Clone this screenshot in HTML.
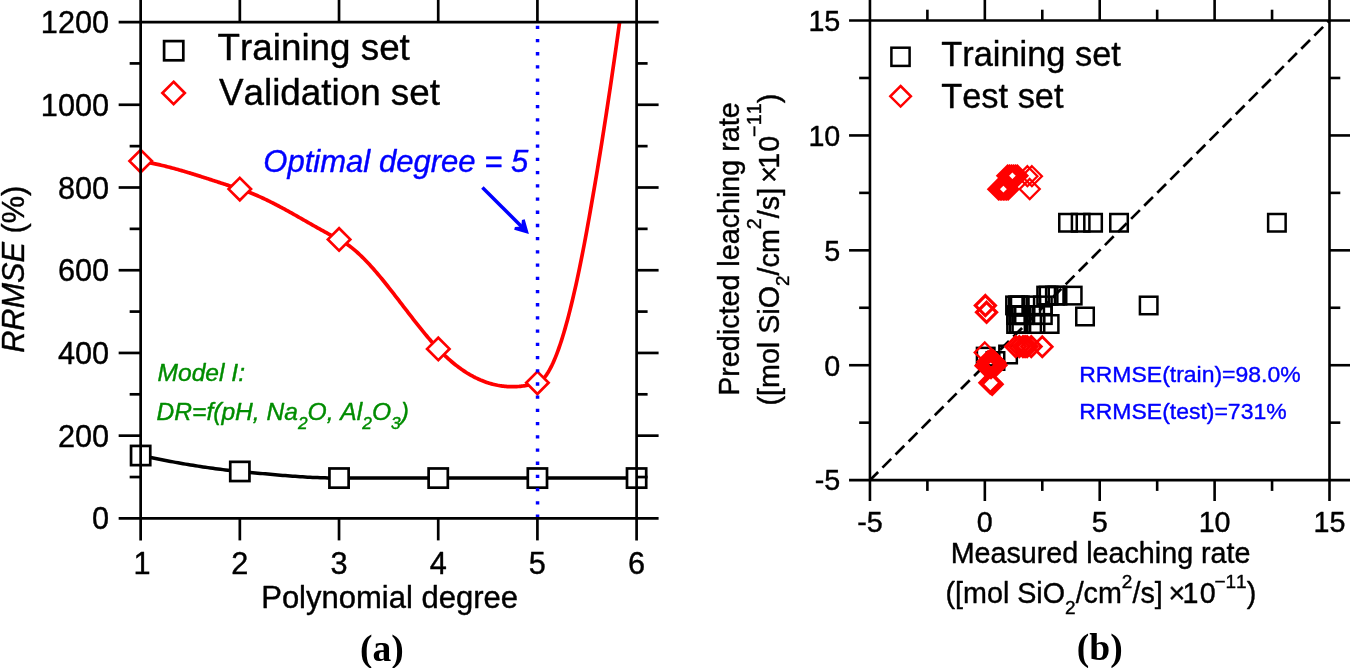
<!DOCTYPE html>
<html lang="en"><head><meta charset="utf-8"><title>RRMSE vs polynomial degree</title>
<style>
html,body{margin:0;padding:0;background:#fff;}
body{width:1350px;height:668px;overflow:hidden;}
svg{display:block;font-family:"Liberation Sans", Arial, Helvetica, sans-serif;font-kerning:none;}
text{stroke-width:0.4px;stroke-linejoin:round;}
.t text,text.t{stroke:#000;}
.ax{stroke:#000;fill:none;stroke-linecap:butt;}
.t{fill:#000;}
.serif{font-family:"Liberation Serif", "Times New Roman", serif;font-weight:bold;}
</style></head><body>
<svg width="1350" height="668" viewBox="0 0 1350 668">
<rect width="1350" height="668" fill="#fff"/>
<defs><clipPath id="clipA"><rect x="140.65" y="22.05" width="495.95" height="496.35"/></clipPath></defs>
<path clip-path="url(#clipA)" d="M140.65 161.10 L141.86 161.30 L143.06 161.50 L144.27 161.71 L145.47 161.92 L146.68 162.14 L147.88 162.37 L149.09 162.60 L150.30 162.83 L151.50 163.08 L152.71 163.32 L153.91 163.58 L155.12 163.83 L156.32 164.10 L157.53 164.37 L158.74 164.64 L159.94 164.92 L161.15 165.20 L162.35 165.48 L163.56 165.78 L164.76 166.07 L165.97 166.37 L167.18 166.68 L168.38 166.98 L169.59 167.30 L170.79 167.61 L172.00 167.93 L173.20 168.26 L174.41 168.58 L175.62 168.92 L176.82 169.25 L178.03 169.59 L179.23 169.93 L180.44 170.27 L181.64 170.62 L182.85 170.97 L184.05 171.32 L185.26 171.68 L186.47 172.04 L187.67 172.40 L188.88 172.76 L190.08 173.13 L191.29 173.49 L192.49 173.87 L193.70 174.24 L194.91 174.61 L196.11 174.99 L197.32 175.37 L198.52 175.75 L199.73 176.13 L200.93 176.51 L202.14 176.90 L203.35 177.28 L204.55 177.67 L205.76 178.06 L206.96 178.44 L208.17 178.84 L209.37 179.23 L210.58 179.62 L211.79 180.01 L212.99 180.40 L214.20 180.80 L215.40 181.19 L216.61 181.58 L217.81 181.98 L219.02 182.37 L220.23 182.77 L221.43 183.16 L222.64 183.56 L223.84 183.95 L225.05 184.34 L226.25 184.74 L227.46 185.13 L228.67 185.52 L229.87 185.91 L231.08 186.30 L232.28 186.69 L233.49 187.08 L234.69 187.46 L235.90 187.85 L237.11 188.23 L238.31 188.62 L239.52 189.00 L240.72 189.38 L241.93 189.77 L243.13 190.18 L244.34 190.60 L245.55 191.02 L246.75 191.46 L247.96 191.90 L249.16 192.36 L250.37 192.83 L251.57 193.30 L252.78 193.79 L253.99 194.28 L255.19 194.78 L256.40 195.30 L257.60 195.82 L258.81 196.35 L260.01 196.88 L261.22 197.43 L262.42 197.98 L263.63 198.54 L264.84 199.10 L266.04 199.68 L267.25 200.26 L268.45 200.84 L269.66 201.44 L270.86 202.04 L272.07 202.64 L273.28 203.25 L274.48 203.87 L275.69 204.49 L276.89 205.12 L278.10 205.75 L279.30 206.39 L280.51 207.03 L281.72 207.68 L282.92 208.33 L284.13 208.98 L285.33 209.64 L286.54 210.30 L287.74 210.97 L288.95 211.63 L290.16 212.30 L291.36 212.98 L292.57 213.65 L293.77 214.33 L294.98 215.01 L296.18 215.69 L297.39 216.37 L298.60 217.06 L299.80 217.74 L301.01 218.43 L302.21 219.12 L303.42 219.81 L304.62 220.49 L305.83 221.18 L307.04 221.87 L308.24 222.56 L309.45 223.25 L310.65 223.93 L311.86 224.62 L313.06 225.31 L314.27 225.99 L315.48 226.67 L316.68 227.35 L317.89 228.03 L319.09 228.71 L320.30 229.38 L321.50 230.05 L322.71 230.72 L323.92 231.39 L325.12 232.05 L326.33 232.71 L327.53 233.37 L328.74 234.02 L329.94 234.67 L331.15 235.31 L332.36 235.95 L333.56 236.58 L334.77 237.21 L335.97 237.84 L337.18 238.46 L338.38 239.07 L339.59 239.69 L340.80 240.33 L342.00 241.01 L343.21 241.72 L344.41 242.47 L345.62 243.25 L346.82 244.06 L348.03 244.91 L349.23 245.79 L350.44 246.70 L351.65 247.63 L352.85 248.60 L354.06 249.60 L355.26 250.62 L356.47 251.67 L357.67 252.75 L358.88 253.85 L360.09 254.98 L361.29 256.13 L362.50 257.31 L363.70 258.51 L364.91 259.73 L366.11 260.98 L367.32 262.24 L368.53 263.53 L369.73 264.83 L370.94 266.15 L372.14 267.50 L373.35 268.85 L374.55 270.23 L375.76 271.62 L376.97 273.03 L378.17 274.45 L379.38 275.89 L380.58 277.34 L381.79 278.80 L382.99 280.28 L384.20 281.76 L385.41 283.26 L386.61 284.77 L387.82 286.28 L389.02 287.81 L390.23 289.34 L391.43 290.88 L392.64 292.43 L393.85 293.98 L395.05 295.54 L396.26 297.10 L397.46 298.66 L398.67 300.23 L399.87 301.80 L401.08 303.37 L402.29 304.95 L403.49 306.52 L404.70 308.09 L405.90 309.66 L407.11 311.23 L408.31 312.80 L409.52 314.36 L410.73 315.92 L411.93 317.48 L413.14 319.03 L414.34 320.58 L415.55 322.11 L416.75 323.64 L417.96 325.17 L419.17 326.68 L420.37 328.18 L421.58 329.68 L422.78 331.16 L423.99 332.63 L425.19 334.09 L426.40 335.54 L427.60 336.97 L428.81 338.39 L430.02 339.80 L431.22 341.19 L432.43 342.56 L433.63 343.91 L434.84 345.25 L436.04 346.57 L437.25 347.87 L438.46 349.15 L439.66 350.41 L440.87 351.64 L442.07 352.86 L443.28 354.05 L444.48 355.21 L445.69 356.36 L446.90 357.48 L448.10 358.58 L449.31 359.66 L450.51 360.71 L451.72 361.75 L452.92 362.76 L454.13 363.75 L455.34 364.71 L456.54 365.66 L457.75 366.58 L458.95 367.49 L460.16 368.37 L461.36 369.22 L462.57 370.06 L463.78 370.88 L464.98 371.67 L466.19 372.44 L467.39 373.20 L468.60 373.93 L469.80 374.64 L471.01 375.32 L472.22 375.99 L473.42 376.64 L474.63 377.26 L475.83 377.87 L477.04 378.45 L478.24 379.02 L479.45 379.56 L480.66 380.08 L481.86 380.58 L483.07 381.07 L484.27 381.53 L485.48 381.97 L486.68 382.39 L487.89 382.79 L489.10 383.17 L490.30 383.53 L491.51 383.88 L492.71 384.20 L493.92 384.50 L495.12 384.78 L496.33 385.04 L497.54 385.29 L498.74 385.51 L499.95 385.72 L501.15 385.90 L502.36 386.07 L503.56 386.21 L504.77 386.34 L505.97 386.45 L507.18 386.54 L508.39 386.61 L509.59 386.66 L510.80 386.69 L512.00 386.71 L513.21 386.71 L514.41 386.68 L515.62 386.64 L516.83 386.58 L518.03 386.50 L519.24 386.41 L520.44 386.29 L521.65 386.16 L522.85 386.01 L524.06 385.84 L525.27 385.66 L526.47 385.45 L527.68 385.23 L528.88 384.99 L530.09 384.74 L531.29 384.46 L532.50 384.17 L533.71 383.86 L534.91 383.53 L536.12 383.19 L537.32 382.83 L538.53 382.38 L539.73 381.74 L540.94 380.92 L542.15 379.92 L543.35 378.73 L544.56 377.37 L545.76 375.84 L546.97 374.12 L548.17 372.24 L549.38 370.18 L550.59 367.95 L551.79 365.56 L553.00 362.99 L554.20 360.27 L555.41 357.38 L556.61 354.33 L557.82 351.12 L559.03 347.75 L560.23 344.23 L561.44 340.55 L562.64 336.72 L563.85 332.74 L565.05 328.61 L566.26 324.34 L567.47 319.91 L568.67 315.35 L569.88 310.64 L571.08 305.80 L572.29 300.81 L573.49 295.69 L574.70 290.43 L575.91 285.04 L577.11 279.52 L578.32 273.87 L579.52 268.09 L580.73 262.18 L581.93 256.15 L583.14 250.00 L584.35 243.73 L585.55 237.34 L586.76 230.83 L587.96 224.20 L589.17 217.46 L590.37 210.61 L591.58 203.65 L592.80 196.58 L594.05 189.40 L595.30 182.11 L596.54 174.73 L597.79 167.24 L599.03 159.65 L600.29 151.97 L601.53 144.18 L602.78 136.30 L604.04 128.33 L605.28 120.27 L606.54 112.12 L607.78 103.88 L609.04 95.56 L610.29 87.15 L611.54 78.65 L612.80 70.08 L614.05 61.43 L615.31 52.70 L616.56 43.89 L617.82 35.02 L619.07 26.07 L620.33 17.04" fill="none" stroke="#ff0000" stroke-width="3.7" stroke-linejoin="round"/>
<path d="M140.65 455.53 L143.14 456.04 L145.63 456.56 L148.13 457.06 L150.62 457.57 L153.11 458.07 L155.60 458.56 L158.10 459.05 L160.59 459.54 L163.08 460.02 L165.57 460.50 L168.06 460.97 L170.56 461.43 L173.05 461.89 L175.54 462.35 L178.03 462.79 L180.53 463.24 L183.02 463.67 L185.51 464.10 L188.00 464.52 L190.49 464.94 L192.99 465.34 L195.48 465.74 L197.97 466.14 L200.46 466.52 L202.96 466.90 L205.45 467.27 L207.94 467.63 L210.43 467.98 L212.92 468.33 L215.42 468.66 L217.91 468.99 L220.40 469.31 L222.89 469.62 L225.39 469.92 L227.88 470.21 L230.37 470.49 L232.86 470.75 L235.35 471.01 L237.85 471.26 L240.34 471.50 L242.83 471.74 L245.32 471.97 L247.82 472.21 L250.31 472.45 L252.80 472.69 L255.29 472.92 L257.78 473.16 L260.28 473.39 L262.77 473.63 L265.26 473.86 L267.75 474.09 L270.24 474.32 L272.74 474.54 L275.23 474.76 L277.72 474.98 L280.21 475.19 L282.71 475.40 L285.20 475.60 L287.69 475.80 L290.18 475.99 L292.67 476.17 L295.17 476.35 L297.66 476.53 L300.15 476.69 L302.64 476.85 L305.14 477.00 L307.63 477.14 L310.12 477.28 L312.61 477.40 L315.10 477.51 L317.60 477.62 L320.09 477.72 L322.58 477.80 L325.07 477.87 L327.57 477.94 L330.06 477.99 L332.55 478.03 L335.04 478.05 L337.53 478.07 L340.03 478.07 L342.52 478.07 L345.01 478.07 L347.50 478.07 L350.00 478.07 L352.49 478.07 L354.98 478.07 L357.47 478.07 L359.96 478.07 L362.46 478.07 L364.95 478.07 L367.44 478.07 L369.93 478.07 L372.43 478.07 L374.92 478.07 L377.41 478.07 L379.90 478.07 L382.39 478.07 L384.89 478.07 L387.38 478.07 L389.87 478.07 L392.36 478.07 L394.86 478.07 L397.35 478.07 L399.84 478.07 L402.33 478.07 L404.82 478.07 L407.32 478.07 L409.81 478.07 L412.30 478.07 L414.79 478.07 L417.29 478.07 L419.78 478.07 L422.27 478.07 L424.76 478.07 L427.25 478.07 L429.75 478.07 L432.24 478.07 L434.73 478.07 L437.22 478.07 L439.72 478.07 L442.21 478.07 L444.70 478.07 L447.19 478.07 L449.68 478.07 L452.18 478.07 L454.67 478.07 L457.16 478.07 L459.65 478.07 L462.15 478.07 L464.64 478.07 L467.13 478.07 L469.62 478.07 L472.11 478.07 L474.61 478.07 L477.10 478.07 L479.59 478.07 L482.08 478.07 L484.58 478.07 L487.07 478.07 L489.56 478.07 L492.05 478.07 L494.54 478.07 L497.04 478.07 L499.53 478.07 L502.02 478.07 L504.51 478.07 L507.01 478.07 L509.50 478.07 L511.99 478.07 L514.48 478.07 L516.97 478.07 L519.47 478.07 L521.96 478.07 L524.45 478.07 L526.94 478.07 L529.43 478.07 L531.93 478.07 L534.42 478.07 L536.91 478.07 L539.40 478.07 L541.90 478.07 L544.39 478.07 L546.88 478.07 L549.37 478.07 L551.86 478.07 L554.36 478.07 L556.85 478.07 L559.34 478.07 L561.83 478.07 L564.33 478.07 L566.82 478.07 L569.31 478.07 L571.80 478.07 L574.29 478.07 L576.79 478.07 L579.28 478.07 L581.77 478.07 L584.26 478.07 L586.76 478.07 L589.25 478.07 L591.74 478.07 L594.23 478.07 L596.72 478.07 L599.22 478.07 L601.71 478.07 L604.20 478.07 L606.69 478.07 L609.19 478.07 L611.68 478.07 L614.17 478.07 L616.66 478.07 L619.15 478.07 L621.65 478.07 L624.14 478.07 L626.63 478.07 L629.12 478.07 L631.62 478.07 L634.11 478.07 L636.60 478.07" fill="none" stroke="#000" stroke-width="3.5" stroke-linejoin="round"/>
<rect x="131.05" y="445.93" width="19.20" height="19.20" fill="#fff" stroke="#000" stroke-width="2.70"/>
<rect x="230.24" y="461.85" width="19.20" height="19.20" fill="#fff" stroke="#000" stroke-width="2.70"/>
<rect x="329.43" y="468.47" width="19.20" height="19.20" fill="#fff" stroke="#000" stroke-width="2.70"/>
<rect x="428.62" y="468.47" width="19.20" height="19.20" fill="#fff" stroke="#000" stroke-width="2.70"/>
<rect x="527.81" y="468.47" width="19.20" height="19.20" fill="#fff" stroke="#000" stroke-width="2.70"/>
<rect x="627.00" y="468.47" width="19.20" height="19.20" fill="#fff" stroke="#000" stroke-width="2.70"/>
<path d="M140.70 149.90 L151.90 161.10 L140.70 172.30 L129.50 161.10Z" fill="#fff" stroke="#ff0000" stroke-width="2.70" stroke-linejoin="miter"/>
<path d="M239.80 177.90 L251.00 189.10 L239.80 200.30 L228.60 189.10Z" fill="#fff" stroke="#ff0000" stroke-width="2.70" stroke-linejoin="miter"/>
<path d="M339.10 228.20 L350.30 239.40 L339.10 250.60 L327.90 239.40Z" fill="#fff" stroke="#ff0000" stroke-width="2.70" stroke-linejoin="miter"/>
<path d="M438.30 337.70 L449.50 348.90 L438.30 360.10 L427.10 348.90Z" fill="#fff" stroke="#ff0000" stroke-width="2.70" stroke-linejoin="miter"/>
<path d="M537.40 371.60 L548.60 382.80 L537.40 394.00 L526.20 382.80Z" fill="#fff" stroke="#ff0000" stroke-width="2.70" stroke-linejoin="miter"/>
<line x1="537.55" y1="517.75" x2="537.55" y2="22" stroke="#0000ff" stroke-width="3.5" stroke-dasharray="3.3 9.91"/>
<g class="ax" stroke-width="2.70">
<line x1="140.65" y1="0" x2="140.65" y2="540.40"/>
<line x1="636.60" y1="0" x2="636.60" y2="540.40"/>
<line x1="118.65" y1="22.05" x2="658.60" y2="22.05"/>
<line x1="118.65" y1="518.40" x2="658.60" y2="518.40"/>
<line x1="239.84" y1="0" x2="239.84" y2="22.05"/>
<line x1="239.84" y1="518.40" x2="239.84" y2="540.40"/>
<line x1="339.03" y1="0" x2="339.03" y2="22.05"/>
<line x1="339.03" y1="518.40" x2="339.03" y2="540.40"/>
<line x1="438.22" y1="0" x2="438.22" y2="22.05"/>
<line x1="438.22" y1="518.40" x2="438.22" y2="540.40"/>
<line x1="537.41" y1="0" x2="537.41" y2="22.05"/>
<line x1="537.41" y1="518.40" x2="537.41" y2="540.40"/>
<line x1="129.65" y1="477.04" x2="140.65" y2="477.04"/>
<line x1="636.60" y1="477.04" x2="647.60" y2="477.04"/>
<line x1="118.65" y1="435.67" x2="140.65" y2="435.67"/>
<line x1="636.60" y1="435.67" x2="658.60" y2="435.67"/>
<line x1="129.65" y1="394.31" x2="140.65" y2="394.31"/>
<line x1="636.60" y1="394.31" x2="647.60" y2="394.31"/>
<line x1="118.65" y1="352.95" x2="140.65" y2="352.95"/>
<line x1="636.60" y1="352.95" x2="658.60" y2="352.95"/>
<line x1="129.65" y1="311.59" x2="140.65" y2="311.59"/>
<line x1="636.60" y1="311.59" x2="647.60" y2="311.59"/>
<line x1="118.65" y1="270.23" x2="140.65" y2="270.23"/>
<line x1="636.60" y1="270.23" x2="658.60" y2="270.23"/>
<line x1="129.65" y1="228.86" x2="140.65" y2="228.86"/>
<line x1="636.60" y1="228.86" x2="647.60" y2="228.86"/>
<line x1="118.65" y1="187.50" x2="140.65" y2="187.50"/>
<line x1="636.60" y1="187.50" x2="658.60" y2="187.50"/>
<line x1="129.65" y1="146.14" x2="140.65" y2="146.14"/>
<line x1="636.60" y1="146.14" x2="647.60" y2="146.14"/>
<line x1="118.65" y1="104.77" x2="140.65" y2="104.77"/>
<line x1="636.60" y1="104.77" x2="658.60" y2="104.77"/>
<line x1="129.65" y1="63.41" x2="140.65" y2="63.41"/>
<line x1="636.60" y1="63.41" x2="647.60" y2="63.41"/>
</g>
<g class="t" font-size="30.70">
<text x="109.1" y="529.40" text-anchor="end">0</text>
<text x="109.1" y="446.67" text-anchor="end">200</text>
<text x="109.1" y="363.95" text-anchor="end">400</text>
<text x="109.1" y="281.23" text-anchor="end">600</text>
<text x="109.1" y="198.50" text-anchor="end">800</text>
<text x="109.1" y="115.77" text-anchor="end">1000</text>
<text x="109.1" y="33.05" text-anchor="end">1200</text>
<text x="141.95" y="573.8" text-anchor="middle">1</text>
<text x="239.84" y="573.8" text-anchor="middle">2</text>
<text x="339.03" y="573.8" text-anchor="middle">3</text>
<text x="438.22" y="573.8" text-anchor="middle">4</text>
<text x="537.41" y="573.8" text-anchor="middle">5</text>
<text x="636.60" y="573.8" text-anchor="middle">6</text>
<text x="389.6" y="607.8" text-anchor="middle" font-size="31">Polynomial degree</text>
<text transform="translate(24.3 269.3) rotate(-90)" text-anchor="middle"><tspan font-style="italic">RRMSE</tspan> (%)</text>
</g>
<rect x="164.10" y="41.10" width="19.20" height="19.20" fill="none" stroke="#000" stroke-width="2.70"/>
<path d="M173.60 81.80 L184.80 93.00 L173.60 104.20 L162.40 93.00Z" fill="none" stroke="#ff0000" stroke-width="2.70" stroke-linejoin="miter"/>
<g class="t" font-size="36.8"><text x="217.6" y="60.1">Training set</text><text x="219.0" y="105.4">Validation set</text></g>
<text x="263.3" y="172.1" font-size="31.05" font-style="italic" fill="#0000ff" stroke="#0000ff">Optimal degree = 5</text>
<line x1="482.4" y1="187.6" x2="522.5" y2="227.5" stroke="#0000ff" stroke-width="3.5"/>
<path d="M528.9 233.9 L524.7 219.2 L521.9 219.9 L521.3 226.5 L514.9 226.9 L514.2 229.7Z" fill="#0000ff"/>
<g fill="#008c00" stroke="#008c00" font-style="italic" font-size="24.6"><text x="157.5" y="380.5">Model I:</text><text x="156.5" y="419.9">DR=f(pH, Na<tspan font-size="17.3" dy="9.3">2</tspan><tspan dy="-9.3">O, Al</tspan><tspan font-size="17.3" dy="9.3">2</tspan><tspan dy="-9.3">O</tspan><tspan font-size="17.3" dy="9.3">3</tspan><tspan dy="-9.3">)</tspan></text></g>
<text class="serif" x="381.8" stroke="none" y="660.6" font-size="37.6" text-anchor="middle">(a)</text>
<line x1="869.35" y1="480.70" x2="1329.50" y2="20.50" stroke="#000" stroke-width="2.7" stroke-dasharray="12.4 6.11"/>
<rect x="1059.27" y="214.00" width="17.50" height="17.50" fill="none" stroke="#000" stroke-width="2.50"/>
<rect x="1071.90" y="214.00" width="17.50" height="17.50" fill="none" stroke="#000" stroke-width="2.50"/>
<rect x="1084.31" y="214.00" width="17.50" height="17.50" fill="none" stroke="#000" stroke-width="2.50"/>
<rect x="1110.28" y="214.00" width="17.50" height="17.50" fill="none" stroke="#000" stroke-width="2.50"/>
<rect x="1268.13" y="214.00" width="17.50" height="17.50" fill="none" stroke="#000" stroke-width="2.50"/>
<rect x="1037.43" y="286.86" width="17.50" height="17.50" fill="none" stroke="#000" stroke-width="2.50"/>
<rect x="1039.84" y="286.86" width="17.50" height="17.50" fill="none" stroke="#000" stroke-width="2.50"/>
<rect x="1046.13" y="286.86" width="17.50" height="17.50" fill="none" stroke="#000" stroke-width="2.50"/>
<rect x="1048.75" y="286.86" width="17.50" height="17.50" fill="none" stroke="#000" stroke-width="2.50"/>
<rect x="1063.94" y="286.86" width="17.50" height="17.50" fill="none" stroke="#000" stroke-width="2.50"/>
<rect x="1006.31" y="296.66" width="17.50" height="17.50" fill="none" stroke="#000" stroke-width="2.50"/>
<rect x="1009.14" y="296.66" width="17.50" height="17.50" fill="none" stroke="#000" stroke-width="2.50"/>
<rect x="1011.02" y="296.66" width="17.50" height="17.50" fill="none" stroke="#000" stroke-width="2.50"/>
<rect x="1022.55" y="296.66" width="17.50" height="17.50" fill="none" stroke="#000" stroke-width="2.50"/>
<rect x="1034.08" y="296.66" width="17.50" height="17.50" fill="none" stroke="#000" stroke-width="2.50"/>
<rect x="1007.36" y="306.35" width="17.50" height="17.50" fill="none" stroke="#000" stroke-width="2.50"/>
<rect x="1009.98" y="306.35" width="17.50" height="17.50" fill="none" stroke="#000" stroke-width="2.50"/>
<rect x="1012.60" y="306.35" width="17.50" height="17.50" fill="none" stroke="#000" stroke-width="2.50"/>
<rect x="1015.22" y="306.35" width="17.50" height="17.50" fill="none" stroke="#000" stroke-width="2.50"/>
<rect x="1026.43" y="306.35" width="17.50" height="17.50" fill="none" stroke="#000" stroke-width="2.50"/>
<rect x="1034.08" y="306.35" width="17.50" height="17.50" fill="none" stroke="#000" stroke-width="2.50"/>
<rect x="1007.36" y="315.26" width="17.50" height="17.50" fill="none" stroke="#000" stroke-width="2.50"/>
<rect x="1009.98" y="315.26" width="17.50" height="17.50" fill="none" stroke="#000" stroke-width="2.50"/>
<rect x="1012.60" y="315.26" width="17.50" height="17.50" fill="none" stroke="#000" stroke-width="2.50"/>
<rect x="1026.74" y="315.26" width="17.50" height="17.50" fill="none" stroke="#000" stroke-width="2.50"/>
<rect x="1040.89" y="315.26" width="17.50" height="17.50" fill="none" stroke="#000" stroke-width="2.50"/>
<rect x="1076.27" y="307.75" width="17.50" height="17.50" fill="none" stroke="#000" stroke-width="2.50"/>
<rect x="1139.92" y="296.72" width="17.50" height="17.50" fill="none" stroke="#000" stroke-width="2.50"/>
<rect x="999.34" y="345.75" width="17.50" height="17.50" fill="none" stroke="#000" stroke-width="2.50"/>
<rect x="986.73" y="352.26" width="17.50" height="17.50" fill="none" stroke="#000" stroke-width="2.50"/>
<rect x="976.94" y="347.87" width="17.50" height="17.50" fill="none" stroke="#000" stroke-width="2.50"/>
<path d="M998.58 179.20 L1008.58 189.20 L998.58 199.20 L988.58 189.20Z" fill="none" stroke="#ff0000" stroke-width="2.60" stroke-linejoin="miter"/>
<path d="M1000.18 179.20 L1010.18 189.20 L1000.18 199.20 L990.18 189.20Z" fill="none" stroke="#ff0000" stroke-width="2.60" stroke-linejoin="miter"/>
<path d="M1001.78 179.20 L1011.78 189.20 L1001.78 199.20 L991.78 189.20Z" fill="none" stroke="#ff0000" stroke-width="2.60" stroke-linejoin="miter"/>
<path d="M1003.38 179.20 L1013.38 189.20 L1003.38 199.20 L993.38 189.20Z" fill="none" stroke="#ff0000" stroke-width="2.60" stroke-linejoin="miter"/>
<path d="M1004.98 179.20 L1014.98 189.20 L1004.98 199.20 L994.98 189.20Z" fill="none" stroke="#ff0000" stroke-width="2.60" stroke-linejoin="miter"/>
<path d="M1006.58 179.20 L1016.58 189.20 L1006.58 199.20 L996.58 189.20Z" fill="none" stroke="#ff0000" stroke-width="2.60" stroke-linejoin="miter"/>
<path d="M1008.18 179.20 L1018.18 189.20 L1008.18 199.20 L998.18 189.20Z" fill="none" stroke="#ff0000" stroke-width="2.60" stroke-linejoin="miter"/>
<path d="M1007.59 165.76 L1017.59 175.76 L1007.59 185.76 L997.59 175.76Z" fill="none" stroke="#ff0000" stroke-width="2.60" stroke-linejoin="miter"/>
<path d="M1009.52 165.76 L1019.52 175.76 L1009.52 185.76 L999.52 175.76Z" fill="none" stroke="#ff0000" stroke-width="2.60" stroke-linejoin="miter"/>
<path d="M1011.45 165.76 L1021.45 175.76 L1011.45 185.76 L1001.45 175.76Z" fill="none" stroke="#ff0000" stroke-width="2.60" stroke-linejoin="miter"/>
<path d="M1013.38 165.76 L1023.38 175.76 L1013.38 185.76 L1003.38 175.76Z" fill="none" stroke="#ff0000" stroke-width="2.60" stroke-linejoin="miter"/>
<path d="M1015.31 165.76 L1025.31 175.76 L1015.31 185.76 L1005.31 175.76Z" fill="none" stroke="#ff0000" stroke-width="2.60" stroke-linejoin="miter"/>
<path d="M1017.24 165.76 L1027.24 175.76 L1017.24 185.76 L1007.24 175.76Z" fill="none" stroke="#ff0000" stroke-width="2.60" stroke-linejoin="miter"/>
<path d="M1027.40 166.20 L1037.40 176.20 L1027.40 186.20 L1017.40 176.20Z" fill="none" stroke="#ff0000" stroke-width="2.30" stroke-linejoin="miter"/>
<path d="M1031.90 166.20 L1041.90 176.20 L1031.90 186.20 L1021.90 176.20Z" fill="none" stroke="#ff0000" stroke-width="2.30" stroke-linejoin="miter"/>
<path d="M1029.70 179.00 L1039.70 189.00 L1029.70 199.00 L1019.70 189.00Z" fill="none" stroke="#ff0000" stroke-width="2.30" stroke-linejoin="miter"/>
<path d="M985.36 295.58 L995.36 305.58 L985.36 315.58 L975.36 305.58Z" fill="none" stroke="#ff0000" stroke-width="3.20" stroke-linejoin="miter"/>
<path d="M986.56 302.32 L996.56 312.32 L986.56 322.32 L976.56 312.32Z" fill="none" stroke="#ff0000" stroke-width="3.20" stroke-linejoin="miter"/>
<path d="M1015.63 336.60 L1025.63 346.60 L1015.63 356.60 L1005.63 346.60Z" fill="none" stroke="#ff0000" stroke-width="2.90" stroke-linejoin="miter"/>
<path d="M1019.30 336.60 L1029.30 346.60 L1019.30 356.60 L1009.30 346.60Z" fill="none" stroke="#ff0000" stroke-width="2.90" stroke-linejoin="miter"/>
<path d="M1022.98 336.60 L1032.98 346.60 L1022.98 356.60 L1012.98 346.60Z" fill="none" stroke="#ff0000" stroke-width="2.90" stroke-linejoin="miter"/>
<path d="M1025.05 336.60 L1035.05 346.60 L1025.05 356.60 L1015.05 346.60Z" fill="none" stroke="#ff0000" stroke-width="2.90" stroke-linejoin="miter"/>
<path d="M1027.12 336.60 L1037.12 346.60 L1027.12 356.60 L1017.12 346.60Z" fill="none" stroke="#ff0000" stroke-width="2.90" stroke-linejoin="miter"/>
<path d="M1031.25 336.60 L1041.25 346.60 L1031.25 356.60 L1021.25 346.60Z" fill="none" stroke="#ff0000" stroke-width="2.90" stroke-linejoin="miter"/>
<path d="M1042.28 336.72 L1052.28 346.72 L1042.28 356.72 L1032.28 346.72Z" fill="none" stroke="#ff0000" stroke-width="2.70" stroke-linejoin="miter"/>
<path d="M984.80 342.50 L994.80 352.50 L984.80 362.50 L974.80 352.50Z" fill="none" stroke="#ff0000" stroke-width="2.40" stroke-linejoin="miter"/>
<path d="M991.00 353.75 L1001.00 363.75 L991.00 373.75 L981.00 363.75Z" fill="none" stroke="#ff0000" stroke-width="3.00" stroke-linejoin="miter"/>
<path d="M988.00 351.75 L998.00 361.75 L988.00 371.75 L978.00 361.75Z" fill="none" stroke="#ff0000" stroke-width="3.00" stroke-linejoin="miter"/>
<path d="M994.00 355.75 L1004.00 365.75 L994.00 375.75 L984.00 365.75Z" fill="none" stroke="#ff0000" stroke-width="3.00" stroke-linejoin="miter"/>
<path d="M989.00 356.75 L999.00 366.75 L989.00 376.75 L979.00 366.75Z" fill="none" stroke="#ff0000" stroke-width="3.00" stroke-linejoin="miter"/>
<path d="M993.00 350.75 L1003.00 360.75 L993.00 370.75 L983.00 360.75Z" fill="none" stroke="#ff0000" stroke-width="3.00" stroke-linejoin="miter"/>
<path d="M987.00 354.75 L997.00 364.75 L987.00 374.75 L977.00 364.75Z" fill="none" stroke="#ff0000" stroke-width="3.00" stroke-linejoin="miter"/>
<path d="M995.00 352.75 L1005.00 362.75 L995.00 372.75 L985.00 362.75Z" fill="none" stroke="#ff0000" stroke-width="3.00" stroke-linejoin="miter"/>
<path d="M991.00 357.75 L1001.00 367.75 L991.00 377.75 L981.00 367.75Z" fill="none" stroke="#ff0000" stroke-width="3.00" stroke-linejoin="miter"/>
<path d="M991.00 349.75 L1001.00 359.75 L991.00 369.75 L981.00 359.75Z" fill="none" stroke="#ff0000" stroke-width="3.00" stroke-linejoin="miter"/>
<path d="M989.50 352.75 L999.50 362.75 L989.50 372.75 L979.50 362.75Z" fill="none" stroke="#ff0000" stroke-width="3.00" stroke-linejoin="miter"/>
<path d="M992.50 354.75 L1002.50 364.75 L992.50 374.75 L982.50 364.75Z" fill="none" stroke="#ff0000" stroke-width="3.00" stroke-linejoin="miter"/>
<path d="M996.00 355.25 L1006.00 365.25 L996.00 375.25 L986.00 365.25Z" fill="none" stroke="#ff0000" stroke-width="3.00" stroke-linejoin="miter"/>
<path d="M986.00 355.75 L996.00 365.75 L986.00 375.75 L976.00 365.75Z" fill="none" stroke="#ff0000" stroke-width="3.00" stroke-linejoin="miter"/>
<path d="M989.86 372.70 L999.86 382.70 L989.86 392.70 L979.86 382.70Z" fill="none" stroke="#ff0000" stroke-width="3.00" stroke-linejoin="miter"/>
<path d="M991.06 373.50 L1001.06 383.50 L991.06 393.50 L981.06 383.50Z" fill="none" stroke="#ff0000" stroke-width="3.00" stroke-linejoin="miter"/>
<path d="M992.26 374.30 L1002.26 384.30 L992.26 394.30 L982.26 384.30Z" fill="none" stroke="#ff0000" stroke-width="3.00" stroke-linejoin="miter"/>
<g class="ax" stroke-width="2.60">
<line x1="869.95" y1="0" x2="869.95" y2="501.00"/>
<line x1="1329.50" y1="0" x2="1329.50" y2="501.00"/>
<line x1="849.05" y1="20.50" x2="1352.00" y2="20.50"/>
<line x1="849.05" y1="480.10" x2="1352.00" y2="480.10"/>
<line x1="927.39" y1="9.70" x2="927.39" y2="20.50"/>
<line x1="927.39" y1="480.10" x2="927.39" y2="490.90"/>
<line x1="859.15" y1="422.66" x2="869.95" y2="422.66"/>
<line x1="1329.50" y1="422.66" x2="1340.30" y2="422.66"/>
<line x1="984.84" y1="-0.40" x2="984.84" y2="20.50"/>
<line x1="984.84" y1="480.10" x2="984.84" y2="501.00"/>
<line x1="849.05" y1="365.21" x2="869.95" y2="365.21"/>
<line x1="1329.50" y1="365.21" x2="1350.40" y2="365.21"/>
<line x1="1042.28" y1="9.70" x2="1042.28" y2="20.50"/>
<line x1="1042.28" y1="480.10" x2="1042.28" y2="490.90"/>
<line x1="859.15" y1="307.77" x2="869.95" y2="307.77"/>
<line x1="1329.50" y1="307.77" x2="1340.30" y2="307.77"/>
<line x1="1099.72" y1="-0.40" x2="1099.72" y2="20.50"/>
<line x1="1099.72" y1="480.10" x2="1099.72" y2="501.00"/>
<line x1="849.05" y1="250.33" x2="869.95" y2="250.33"/>
<line x1="1329.50" y1="250.33" x2="1350.40" y2="250.33"/>
<line x1="1157.17" y1="9.70" x2="1157.17" y2="20.50"/>
<line x1="1157.17" y1="480.10" x2="1157.17" y2="490.90"/>
<line x1="859.15" y1="192.88" x2="869.95" y2="192.88"/>
<line x1="1329.50" y1="192.88" x2="1340.30" y2="192.88"/>
<line x1="1214.61" y1="-0.40" x2="1214.61" y2="20.50"/>
<line x1="1214.61" y1="480.10" x2="1214.61" y2="501.00"/>
<line x1="849.05" y1="135.44" x2="869.95" y2="135.44"/>
<line x1="1329.50" y1="135.44" x2="1350.40" y2="135.44"/>
<line x1="1272.06" y1="9.70" x2="1272.06" y2="20.50"/>
<line x1="1272.06" y1="480.10" x2="1272.06" y2="490.90"/>
<line x1="859.15" y1="77.99" x2="869.95" y2="77.99"/>
<line x1="1329.50" y1="77.99" x2="1340.30" y2="77.99"/>
</g>
<g class="t" font-size="28.70">
<text x="840.3" y="490.40" text-anchor="end">-5</text>
<text x="869.95" y="532" text-anchor="middle">-5</text>
<text x="840.3" y="375.51" text-anchor="end">0</text>
<text x="984.84" y="532" text-anchor="middle">0</text>
<text x="840.3" y="260.63" text-anchor="end">5</text>
<text x="1099.72" y="532" text-anchor="middle">5</text>
<text x="840.3" y="145.74" text-anchor="end">10</text>
<text x="1214.61" y="532" text-anchor="middle">10</text>
<text x="840.3" y="30.85" text-anchor="end">15</text>
<text x="1329.50" y="532" text-anchor="middle">15</text>
<text x="1100.6" y="562.8" text-anchor="middle">Measured leaching rate</text>
<text x="945.50" y="602.6">([mol SiO<tspan font-size="19" dy="11.1">2</tspan><tspan dy="-11.1">/cm</tspan><tspan font-size="19" dy="-14.6">2</tspan><tspan dy="14.6">/s]</tspan></text>
<text x="1256.20" y="602.6" text-anchor="end">×<tspan dx="-2.8">1</tspan><tspan dx="1.2">0</tspan><tspan font-size="19" dy="-14.6" dx="-1.2">−11</tspan><tspan dy="14.6">)</tspan></text>
<text transform="translate(739.4 249.1) rotate(-90)" text-anchor="middle">Predicted leaching rate</text>
<text transform="translate(778.8 405.50) rotate(-90)">([mol SiO<tspan font-size="19" dy="10.3">2</tspan><tspan dy="-10.3">/cm</tspan><tspan font-size="19.8" dy="-18">2</tspan><tspan dy="18">/s]</tspan></text>
<text transform="translate(778.8 93.80) rotate(-90)" text-anchor="end">×<tspan dx="-2.8">1</tspan><tspan dx="1.2">0</tspan><tspan font-size="19.8" dy="-18" dx="-1.2">−11</tspan><tspan dy="18">)</tspan></text>
</g>
<rect x="891.40" y="47.70" width="18.20" height="18.20" fill="none" stroke="#000" stroke-width="2.50"/>
<path d="M900.60 86.00 L910.90 96.30 L900.60 106.60 L890.30 96.30Z" fill="none" stroke="#ff0000" stroke-width="2.50" stroke-linejoin="miter"/>
<g class="t" font-size="34.4"><text x="941.2" y="65.5">Training set</text><text x="941.2" y="108.2">Test set</text></g>
<g fill="#0000ff" stroke="#0000ff" font-size="22.98"><text x="1079.2" y="381.8">RRMSE(train)=98.0%</text><text x="1079.2" y="419.4">RRMSE(test)=731%</text></g>
<text class="serif" x="1099.7" y="660.3" font-size="37.6" text-anchor="middle">(b)</text>
</svg></body></html>
